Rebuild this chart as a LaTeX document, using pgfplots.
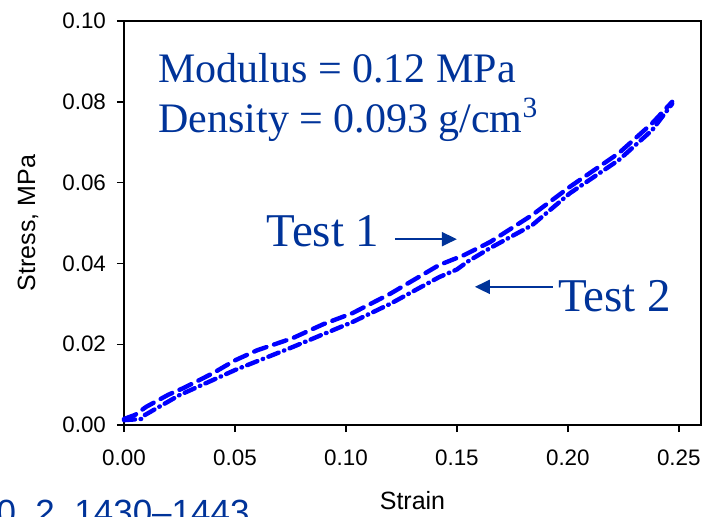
\documentclass[border=0pt]{standalone}
\usepackage{pgfplots}
\pgfplotsset{compat=1.18}
\usepackage{fontspec}
\setmainfont{Liberation Serif}
\newfontfamily\arial{Liberation Sans}
\usetikzlibrary{arrows.meta}
\definecolor{txtblue}{RGB}{0,51,153}
\definecolor{lineblue}{RGB}{0,0,255}

\begin{document}
\begin{tikzpicture}
\useasboundingbox (-62pt,-45.5pt) rectangle (291pt,212.5pt);
\begin{axis}[
    scale only axis,
    width=288.5pt, height=202pt,
    xmin=0, xmax=0.26,
    ymin=0, ymax=0.10,
    xtick={0,0.05,0.10,0.15,0.20,0.25},
    ytick={0,0.02,0.04,0.06,0.08,0.10},
    tick align=outside,
    xtick pos=bottom, ytick pos=left,
    major tick length=3.5pt,
    axis line style={line width=0.7pt},
    tick style={line width=0.7pt, black},
    xticklabel={\arial\fontsize{11.2}{13}\selectfont\pgfmathprintnumber[fixed,fixed zerofill,precision=2,assume math mode=true]{\tick}},
    yticklabel={\arial\fontsize{11.2}{13}\selectfont\pgfmathprintnumber[fixed,fixed zerofill,precision=2,assume math mode=true]{\tick}},
    scaled ticks=false,
    xticklabel style={yshift=-5.5pt},
    yticklabel style={xshift=-2pt},
    xlabel={Strain}, ylabel={Stress, MPa},
    label style={font=\arial\fontsize{12.5}{15}\selectfont},
    xlabel style={at={(axis description cs:0.5,-0.188)}, anchor=center},
    ylabel style={at={(axis description cs:-0.1664,0.5)}, anchor=center},
    clip=false,
]
% Test 1 (dashed)
\addplot[lineblue, line width=2.2pt, line cap=round, dash pattern=on 6.5pt off 4pt] coordinates {
(0,0.0015) (0.005,0.0025) (0.01,0.0045) (0.02,0.0075) (0.027,0.0092)
(0.04,0.0128) (0.05,0.0160) (0.06,0.0185) (0.076,0.0215) (0.09,0.0250)
(0.103,0.0277) (0.12,0.0325) (0.142,0.0396) (0.153,0.0420) (0.165,0.0453)
(0.184,0.0520) (0.201,0.0590) (0.223,0.0673) (0.238,0.0747) (0.247,0.0800)
};
% Test 2 (dash-dot)
\addplot[lineblue, line width=2.2pt, line cap=round, dash pattern=on 5.5pt off 2.8pt on 0.3pt off 2.8pt] coordinates {
(0,0.0012) (0.008,0.0015) (0.0095,0.0025) (0.025,0.0074) (0.05,0.0136)
(0.076,0.0193) (0.103,0.0255) (0.12,0.0300) (0.142,0.0366) (0.15,0.0385)
(0.155,0.0405) (0.165,0.0438) (0.184,0.0495) (0.201,0.0574) (0.223,0.0656)
(0.238,0.0730) (0.247,0.0795)
};
\node[anchor=base west, txtblue, font=\fontsize{21}{24}\selectfont, inner sep=0pt] at (axis cs:0.0153,0.0849) {Modulus = 0.12 MPa};
\node[anchor=base west, txtblue, font=\fontsize{21}{24}\selectfont, inner sep=0pt] at (axis cs:0.0153,0.0723) {Density = 0.093 g/cm\textsuperscript{3}};
\node[anchor=base east, txtblue, font=\fontsize{23.5}{26}\selectfont, inner sep=0pt] at (axis cs:0.1153,0.0441) {Test 1};
\node[anchor=base west, txtblue, font=\fontsize{23.5}{26}\selectfont, inner sep=0pt] at (axis cs:0.1955,0.0282) {Test 2};
\draw[txtblue, line width=1pt, -{Triangle[length=7.5pt,width=7pt]}] (axis cs:0.1221,0.0460) -- (axis cs:0.150,0.0460);
\draw[txtblue, line width=1pt, -{Triangle[length=7.5pt,width=7pt]}] (axis cs:0.1932,0.0342) -- (axis cs:0.1581,0.0342);
\end{axis}
\node[anchor=base east, txtblue, font=\arial\fontsize{17.5}{20}\selectfont, inner sep=0pt] at (63pt,-49.5pt) {0, 2, 1430–1443};
\end{tikzpicture}
\end{document}
